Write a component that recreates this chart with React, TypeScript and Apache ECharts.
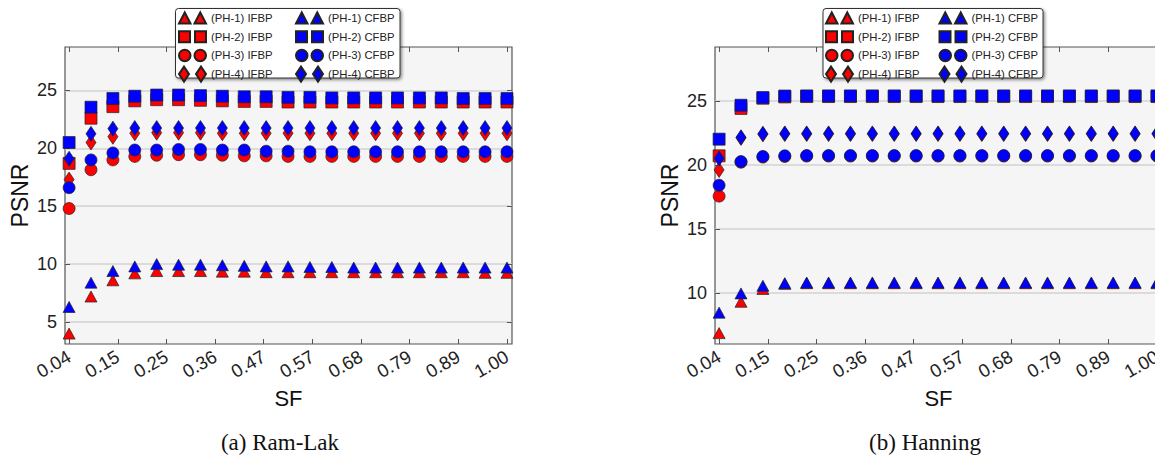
import React, { useEffect, useRef } from "react";
import * as echarts from "echarts";

// ---------- data ----------
const sf = [0.04, 0.088, 0.136, 0.184, 0.232, 0.28, 0.328, 0.376, 0.424, 0.472, 0.52, 0.568, 0.616, 0.664, 0.712, 0.76, 0.808, 0.856, 0.904, 0.952, 1.0];
const xTickValues = [0.04, 0.1467, 0.2533, 0.36, 0.4667, 0.5733, 0.68, 0.7867, 0.8933, 1.0];
const xTickLabels = ["0.04", "0.15", "0.25", "0.36", "0.47", "0.57", "0.68", "0.79", "0.89", "1.00"];
const ramLakYTicks = [5, 10, 15, 20, 25];
const hanningYTicks = [10, 15, 20, 25];

const seriesNames = ["(PH-1) IFBP", "(PH-2) IFBP", "(PH-3) IFBP", "(PH-4) IFBP", "(PH-1) CFBP", "(PH-2) CFBP", "(PH-3) CFBP", "(PH-4) CFBP"];

// (a) Ram-Lak
const rlPh1If = [4.0, 7.2, 8.6, 9.2, 9.4, 9.4, 9.4, 9.35, 9.35, 9.3, 9.3, 9.3, 9.3, 9.3, 9.3, 9.3, 9.3, 9.3, 9.3, 9.25, 9.25];
const rlPh2If = [18.7, 22.6, 23.6, 24.1, 24.2, 24.2, 24.15, 24.1, 24.05, 24.05, 24.0, 24.0, 24.0, 24.0, 24.0, 24.0, 24.0, 24.0, 24.0, 24.0, 24.0];
const rlPh3If = [14.8, 18.15, 19.0, 19.3, 19.4, 19.45, 19.45, 19.4, 19.35, 19.35, 19.3, 19.3, 19.3, 19.3, 19.3, 19.3, 19.3, 19.3, 19.3, 19.3, 19.3];
const rlPh4If = [17.3, 20.5, 21.0, 21.3, 21.35, 21.35, 21.35, 21.3, 21.3, 21.3, 21.3, 21.3, 21.3, 21.3, 21.3, 21.3, 21.3, 21.3, 21.3, 21.3, 21.3];
const rlPh1Cf = [6.3, 8.4, 9.4, 9.8, 10.0, 9.95, 9.95, 9.9, 9.85, 9.8, 9.8, 9.75, 9.75, 9.7, 9.7, 9.7, 9.7, 9.7, 9.7, 9.7, 9.7];
const rlPh2Cf = [20.5, 23.55, 24.3, 24.5, 24.6, 24.6, 24.55, 24.5, 24.45, 24.45, 24.4, 24.4, 24.35, 24.35, 24.35, 24.35, 24.35, 24.35, 24.3, 24.3, 24.3];
const rlPh3Cf = [16.6, 19.0, 19.6, 19.85, 19.85, 19.9, 19.9, 19.85, 19.85, 19.75, 19.75, 19.7, 19.7, 19.7, 19.7, 19.7, 19.7, 19.7, 19.7, 19.7, 19.7];
const rlPh4Cf = [19.1, 21.25, 21.7, 21.75, 21.75, 21.75, 21.75, 21.75, 21.75, 21.75, 21.75, 21.75, 21.75, 21.75, 21.75, 21.75, 21.75, 21.75, 21.75, 21.75, 21.75];

// (b) Hanning
const hnPh1If = [6.85, 9.3, 10.3, 10.7, 10.75, 10.75, 10.75, 10.75, 10.75, 10.75, 10.75, 10.75, 10.75, 10.75, 10.75, 10.75, 10.75, 10.75, 10.75, 10.75, 10.75];
const hnPh2If = [20.7, 24.4, 25.2, 25.3, 25.33, 25.33, 25.33, 25.33, 25.33, 25.33, 25.33, 25.33, 25.33, 25.33, 25.33, 25.33, 25.33, 25.33, 25.33, 25.33, 25.33];
const hnPh3If = [17.55, 20.2, 20.6, 20.65, 20.68, 20.68, 20.68, 20.68, 20.68, 20.68, 20.68, 20.68, 20.68, 20.68, 20.68, 20.68, 20.68, 20.68, 20.68, 20.68, 20.68];
const hnPh4If = [19.6, 22.1, 22.38, 22.4, 22.4, 22.4, 22.4, 22.4, 22.4, 22.4, 22.4, 22.4, 22.4, 22.4, 22.4, 22.4, 22.4, 22.4, 22.4, 22.4, 22.4];
const hnPh1Cf = [8.45, 9.95, 10.55, 10.75, 10.8, 10.8, 10.8, 10.8, 10.8, 10.8, 10.8, 10.8, 10.8, 10.8, 10.8, 10.8, 10.8, 10.8, 10.8, 10.8, 10.8];
const hnPh2Cf = [22.0, 24.65, 25.25, 25.37, 25.38, 25.38, 25.38, 25.38, 25.38, 25.38, 25.38, 25.38, 25.38, 25.38, 25.38, 25.38, 25.38, 25.38, 25.38, 25.38, 25.38];
const hnPh3Cf = [18.4, 20.25, 20.65, 20.7, 20.72, 20.72, 20.72, 20.72, 20.72, 20.72, 20.72, 20.72, 20.72, 20.72, 20.72, 20.72, 20.72, 20.72, 20.72, 20.72, 20.72];
const hnPh4Cf = [20.5, 22.15, 22.42, 22.45, 22.45, 22.45, 22.45, 22.45, 22.45, 22.45, 22.45, 22.45, 22.45, 22.45, 22.45, 22.45, 22.45, 22.45, 22.45, 22.45, 22.45];

const ramLakSeries = [rlPh1If, rlPh2If, rlPh3If, rlPh4If, rlPh1Cf, rlPh2Cf, rlPh3Cf, rlPh4Cf];
const hanningSeries = [hnPh1If, hnPh2If, hnPh3If, hnPh4If, hnPh1Cf, hnPh2Cf, hnPh3Cf, hnPh4Cf];

// ---------- styling ----------
const RED = "#ff0000";
const BLUE = "#0000ff";
const symbols = ["triangle", "rect", "circle", "diamond"];
const symbolSizes: any[] = [[12, 11], 12, 12, [10, 15]];
// legend icons: two markers each, drawn in a 27 x 15 box (corner points fix the box)
const BOX = " M0,0L0,0 M27,15L27,15";
const legendIcons = [
  "path://M0,13L5.75,2L11.5,13Z M15.5,13L21.25,2L27,13Z" + BOX,
  "path://M0,2H11V13H0Z M16,2H27V13H16Z" + BOX,
  "path://M0,7.5A5.75,5.75 0 1,0 11.5,7.5A5.75,5.75 0 1,0 0,7.5Z M15.5,7.5A5.75,5.75 0 1,0 27,7.5A5.75,5.75 0 1,0 15.5,7.5Z" + BOX,
  "path://M5,0L10,7.5L5,15L0,7.5Z M22,0L27,7.5L22,15L17,7.5Z" + BOX,
];

const SANS = "Liberation Sans, Arial, sans-serif";
const SERIF = "Liberation Serif, Times New Roman, serif";

function buildAxes(gridIndex: number, yMin: number, yMax: number, yTicks: number[]) {
  const xMin = 0.031;
  const xMax = 1.011;
  const tickStyle = { lineStyle: { color: "#555", width: 1 } };
  const xAxes = [
    {
      type: "value", gridIndex, position: "bottom", min: xMin, max: xMax,
      name: "SF", nameLocation: "middle", nameGap: 40,
      nameTextStyle: { fontSize: 22, color: "#111", fontFamily: SANS },
      axisLine: { show: false },
      axisTick: { show: true, inside: true, length: 5, customValues: xTickValues, ...tickStyle },
      axisLabel: {
        show: true, customValues: xTickValues, rotate: 30, margin: 11, fontSize: 18.5, color: "#222", fontFamily: SANS,
        formatter: (v: number) => {
          const i = xTickValues.findIndex((t) => Math.abs(t - v) < 1e-6);
          return i >= 0 ? xTickLabels[i] : "";
        },
      },
      splitLine: { show: false },
    },
    {
      type: "value", gridIndex, position: "top", min: xMin, max: xMax,
      axisLine: { show: false },
      axisTick: { show: true, inside: true, length: 5, customValues: xTickValues, ...tickStyle },
      axisLabel: { show: false, customValues: xTickValues },
      splitLine: { show: false },
    },
  ];
  const yAxes = [
    {
      type: "value", gridIndex, position: "left", min: yMin, max: yMax,
      name: "PSNR", nameLocation: "middle", nameGap: 34, nameRotate: 90,
      nameTextStyle: { fontSize: 23, color: "#111", fontFamily: SANS },
      axisLine: { show: false },
      axisTick: { show: true, inside: true, length: 5, customValues: yTicks, ...tickStyle },
      axisLabel: { show: true, customValues: yTicks, margin: 8, fontSize: 18, color: "#222", fontFamily: SANS },
      splitLine: { show: true, lineStyle: { color: "#d2d2d2", width: 1.5 } },
    },
    {
      type: "value", gridIndex, position: "right", min: yMin, max: yMax,
      axisLine: { show: false },
      axisTick: { show: true, inside: true, length: 5, customValues: yTicks, ...tickStyle },
      axisLabel: { show: false, customValues: yTicks },
      splitLine: { show: false },
    },
  ];
  return { xAxes, yAxes };
}

function buildSeries(values: number[][], axisIndex: number) {
  return values.map((ys, k) => {
    const ph = k % 4;
    const color = k < 4 ? RED : BLUE;
    return {
      type: "scatter",
      name: seriesNames[k],
      xAxisIndex: axisIndex,
      yAxisIndex: axisIndex,
      symbol: symbols[ph],
      symbolSize: symbolSizes[ph],
      itemStyle: { color, borderColor: "#222", borderWidth: 0.7, opacity: 1 },
      emphasis: { disabled: true },
      data: ys.map((y, i) => [sf[i], y]),
    };
  });
}

function legendCol(left: number, names: string[]) {
  return {
    orient: "vertical",
    left,
    top: 9.5,
    padding: 0,
    itemWidth: 27,
    itemHeight: 15,
    itemGap: 1.7,
    symbolKeepAspect: false,
    selectedMode: false,
    z: 6,
    textStyle: { fontSize: 11.3, color: "#222", fontFamily: SANS, lineHeight: 14 },
    data: names.map((n, i) => ({ name: n, icon: legendIcons[i] })),
  };
}

const App: React.FC = () => {
  const ref = useRef<HTMLDivElement>(null);

  useEffect(() => {
    if (!ref.current) return;
    const chart = echarts.init(ref.current, undefined, { renderer: "svg" });
    const a = buildAxes(0, 3.1, 28.75, ramLakYTicks);
    const b = buildAxes(1, 6.0, 29.2, hanningYTicks);
    const boxStyle = {
      fill: "#ffffff", stroke: "#333", lineWidth: 1,
      shadowBlur: 3, shadowColor: "rgba(0,0,0,0.45)", shadowOffsetX: 1.5, shadowOffsetY: 1.5,
    };
    const option: any = {
      animation: false,
      grid: [
        { left: 65, top: 47, width: 447, height: 297, show: true, backgroundColor: "#f5f5f5", borderColor: "#555", borderWidth: 1.2 },
        { left: 715, top: 47, width: 447, height: 297, show: true, backgroundColor: "#f5f5f5", borderColor: "#555", borderWidth: 1.2 },
      ],
      xAxis: [...a.xAxes, ...b.xAxes],
      yAxis: [...a.yAxes, ...b.yAxes],
      legend: [
        legendCol(178, seriesNames.slice(0, 4)),
        legendCol(295, seriesNames.slice(4)),
        legendCol(825, seriesNames.slice(0, 4)),
        legendCol(938.5, seriesNames.slice(4)),
      ],
      graphic: [
        { type: "rect", z: 5, shape: { x: 175.5, y: 8.5, width: 224.5, height: 69.5, r: 3 }, style: boxStyle },
        { type: "rect", z: 5, shape: { x: 823, y: 8.5, width: 220, height: 69.5, r: 3 }, style: boxStyle },
        { type: "text", z: 5, x: 280, y: 442, style: { text: "(a) Ram-Lak", fontSize: 23, fontFamily: SERIF, fill: "#111", align: "center", verticalAlign: "middle" } },
        { type: "text", z: 5, x: 925, y: 442, style: { text: "(b) Hanning", fontSize: 23, fontFamily: SERIF, fill: "#111", align: "center", verticalAlign: "middle" } },
      ],
      series: [...buildSeries(ramLakSeries, 0), ...buildSeries(hanningSeries, 2)],
    };
    chart.setOption(option);
    return () => chart.dispose();
  }, []);

  return (
    <div style={{ position: "fixed", left: 0, top: 0, width: 1155, height: 456, overflow: "hidden", background: "#fff" }}>
      <div ref={ref} style={{ width: 1175, height: 456 }} />
    </div>
  );
};

export default App;
